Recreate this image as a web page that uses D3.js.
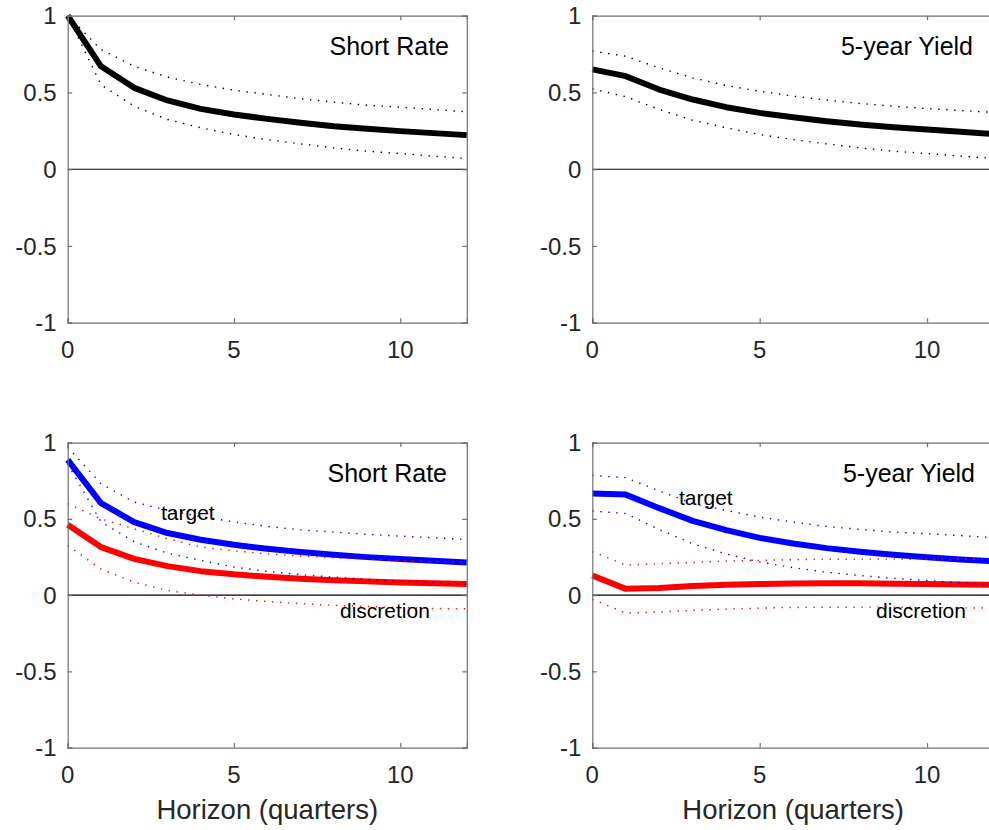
<!DOCTYPE html>
<html>
<head>
<meta charset="utf-8">
<script src="https://cdn.jsdelivr.net/npm/d3@7"></script>
<style>
  body { margin: 0; background: #fff; }
  svg { display: block; font-family: "Liberation Sans", Arial, sans-serif; }
</style>
</head>
<body>
<svg id="irf" width="989" height="830"></svg>
<script>
// horizon in quarters
const horizon = [0, 1, 2, 3, 4, 5, 6, 7, 8, 9, 10, 11, 12];

const xTicks = [0, 5, 10];
const yTicks = [-1, -0.5, 0, 0.5, 1];
const yTickLabels = ["-1", "-0.5", "0", "0.5", "1"];

// top left: short rate
const srMean  = [1.0, 0.67, 0.53, 0.448, 0.393, 0.356, 0.328, 0.302, 0.28, 0.263, 0.248, 0.235, 0.222];
const srUpper = [1.0, 0.78, 0.67, 0.60, 0.552, 0.515, 0.487, 0.459, 0.437, 0.417, 0.404, 0.389, 0.374];
const srLower = [1.0, 0.55, 0.41, 0.324, 0.27, 0.226, 0.193, 0.165, 0.139, 0.117, 0.102, 0.085, 0.07];

// top right: 5-year yield
const y5Mean  = [0.65, 0.606, 0.519, 0.454, 0.404, 0.367, 0.339, 0.313, 0.291, 0.274, 0.259, 0.244, 0.228];
const y5Upper = [0.77, 0.736, 0.66, 0.595, 0.545, 0.508, 0.476, 0.45, 0.428, 0.41, 0.395, 0.382, 0.37];
const y5Lower = [0.524, 0.472, 0.389, 0.319, 0.27, 0.226, 0.193, 0.165, 0.139, 0.117, 0.102, 0.085, 0.07];

// bottom left: short rate, target vs discretion
const srTgtMean   = [0.887, 0.603, 0.479, 0.407, 0.363, 0.33, 0.304, 0.282, 0.264, 0.249, 0.236, 0.225, 0.214];
const srTgtUpper  = [0.97, 0.73, 0.61, 0.555, 0.515, 0.48, 0.45, 0.428, 0.413, 0.398, 0.387, 0.376, 0.365];
const srTgtLower  = [0.86, 0.48, 0.35, 0.275, 0.228, 0.184, 0.155, 0.134, 0.118, 0.103, 0.092, 0.081, 0.07];
const srDiscMean  = [0.461, 0.315, 0.238, 0.19, 0.157, 0.136, 0.12, 0.107, 0.098, 0.09, 0.083, 0.077, 0.072];
const srDiscUpper = [0.6, 0.5, 0.435, 0.37, 0.315, 0.29, 0.27, 0.255, 0.245, 0.235, 0.228, 0.222, 0.216];
const srDiscLower = [0.326, 0.17, 0.085, 0.03, 0.0, -0.025, -0.042, -0.056, -0.067, -0.075, -0.082, -0.087, -0.09];

// bottom right: 5-year yield, target vs discretion
const y5TgtMean   = [0.667, 0.659, 0.57, 0.487, 0.426, 0.375, 0.338, 0.308, 0.284, 0.264, 0.248, 0.234, 0.221];
const y5TgtUpper  = [0.785, 0.77, 0.683, 0.6, 0.555, 0.511, 0.479, 0.45, 0.431, 0.413, 0.403, 0.39, 0.376];
const y5TgtLower  = [0.551, 0.535, 0.43, 0.337, 0.27, 0.217, 0.18, 0.15, 0.128, 0.11, 0.095, 0.082, 0.068];
const y5DiscMean  = [0.129, 0.041, 0.047, 0.059, 0.068, 0.073, 0.076, 0.077, 0.077, 0.074, 0.072, 0.07, 0.068];
const y5DiscUpper = [0.285, 0.197, 0.206, 0.214, 0.223, 0.228, 0.232, 0.235, 0.236, 0.236, 0.235, 0.235, 0.234];
const y5DiscLower = [-0.028, -0.118, -0.111, -0.1, -0.092, -0.085, -0.081, -0.08, -0.079, -0.079, -0.081, -0.083, -0.086];

const svg = d3.select("#irf");

function drawPanel(p) {
  const x = d3.scaleLinear().domain([0, 12]).range([p.left, p.right]);
  const y = d3.scaleLinear().domain([-1, 1]).range([p.bottom, p.top]);
  const g = svg.append("g");

  // zero line
  g.append("line")
    .attr("x1", x(0)).attr("x2", x(12))
    .attr("y1", y(0)).attr("y2", y(0))
    .attr("stroke", "#000").attr("stroke-width", 1.1);

  const line = d3.line().x((d, i) => x(horizon[i])).y(d => y(d));

  p.mains.forEach(s => {
    g.append("path")
      .attr("d", line(s.values))
      .attr("fill", "none")
      .attr("stroke", s.color)
      .attr("stroke-width", 6)
      .attr("stroke-linejoin", "round");
  });

  p.bands.forEach(s => {
    g.append("path")
      .attr("d", line(s.values))
      .attr("fill", "none")
      .attr("stroke", s.color)
      .attr("stroke-width", 1.4)
      .attr("stroke-dasharray", "1.4,6.6");
  });

  // box with inward ticks
  const axisColor = "#707070";
  const tl = 4.5;
  const xAxB = d3.axisBottom(x).tickValues(xTicks).tickSize(-tl).tickFormat("");
  const xAxT = d3.axisTop(x).tickValues(xTicks).tickSize(-tl).tickFormat("");
  const yAxL = d3.axisLeft(y).tickValues(yTicks).tickSize(-tl).tickFormat("");
  const yAxR = d3.axisRight(y).tickValues(yTicks).tickSize(-tl).tickFormat("");
  [[xAxB, `translate(0,${p.bottom})`], [xAxT, `translate(0,${p.top})`],
   [yAxL, `translate(${p.left},0)`], [yAxR, `translate(${p.right},0)`]].forEach(([ax, tr]) => {
    const a = g.append("g").attr("transform", tr).call(ax);
    a.selectAll("path, line").attr("stroke", axisColor).attr("stroke-width", 1.2);
  });

  // tick labels
  g.selectAll(".ylab").data(yTicks).enter().append("text")
    .attr("x", p.left - 11)
    .attr("y", d => y(d) + 8.6)
    .attr("text-anchor", "end")
    .attr("font-size", 24)
    .attr("fill", "#262626")
    .text((d, i) => yTickLabels[i]);

  g.selectAll(".xlab").data(xTicks).enter().append("text")
    .attr("x", d => x(d))
    .attr("y", p.bottom + 35.5)
    .attr("text-anchor", "middle")
    .attr("font-size", 24)
    .attr("fill", "#262626")
    .text(d => d);

  // panel title
  g.append("text")
    .attr("x", p.titleX)
    .attr("y", p.top + 39.5)
    .attr("text-anchor", "end")
    .attr("font-size", 25)
    .attr("fill", "#000")
    .text(p.title);

  if (p.xlabel) {
    g.append("text")
      .attr("x", (x(0) + x(12)) / 2)
      .attr("y", 819)
      .attr("text-anchor", "middle")
      .attr("font-size", 27.5)
      .attr("fill", "#262626")
      .text(p.xlabel);
  }

  (p.notes || []).forEach(n => {
    g.append("text")
      .attr("x", n.x).attr("y", n.y)
      .attr("font-size", 21)
      .attr("fill", "#000")
      .text(n.text);
  });
}

drawPanel({
  left: 67.7, right: 466.8, top: 15.7, bottom: 322.7, title: "Short Rate", titleX: 449,
  mains: [{ values: srMean, color: "#000" }],
  bands: [{ values: srUpper, color: "#000" }, { values: srLower, color: "#000" }]
});
drawPanel({
  left: 592.3, right: 994, top: 15.7, bottom: 322.7, title: "5-year Yield", titleX: 973,
  mains: [{ values: y5Mean, color: "#000" }],
  bands: [{ values: y5Upper, color: "#000" }, { values: y5Lower, color: "#000" }]
});
drawPanel({
  left: 67.7, right: 466.8, top: 442.6, bottom: 747.6, title: "Short Rate", titleX: 447,
  xlabel: "Horizon (quarters)",
  mains: [{ values: srTgtMean, color: "#0000ff" }, { values: srDiscMean, color: "#ff0000" }],
  bands: [{ values: srTgtUpper, color: "#0000ff" }, { values: srTgtLower, color: "#0000ff" },
          { values: srDiscUpper, color: "#ff0000" }, { values: srDiscLower, color: "#ff0000" }],
  notes: [{ text: "target", x: 161, y: 520 }, { text: "discretion", x: 340, y: 618 }]
});
drawPanel({
  left: 592.3, right: 994, top: 442.6, bottom: 747.6, title: "5-year Yield", titleX: 975,
  xlabel: "Horizon (quarters)",
  mains: [{ values: y5TgtMean, color: "#0000ff" }, { values: y5DiscMean, color: "#ff0000" }],
  bands: [{ values: y5TgtUpper, color: "#0000ff" }, { values: y5TgtLower, color: "#0000ff" },
          { values: y5DiscUpper, color: "#ff0000" }, { values: y5DiscLower, color: "#ff0000" }],
  notes: [{ text: "target", x: 679, y: 505 }, { text: "discretion", x: 876, y: 618 }]
});
</script>
</body>
</html>
